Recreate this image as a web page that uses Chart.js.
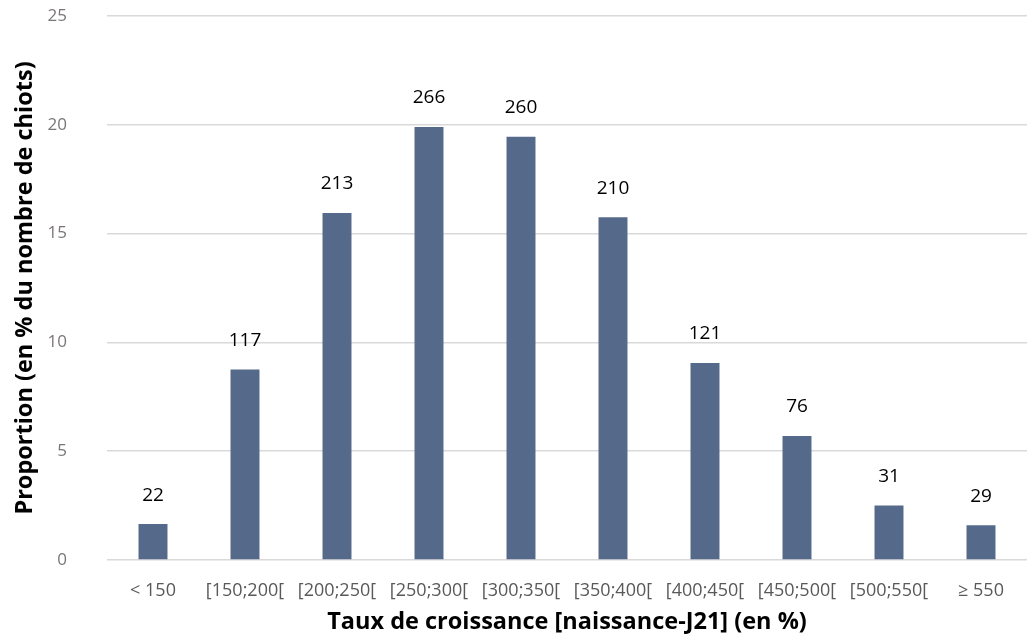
<!DOCTYPE html>
<html>
<head>
<meta charset="utf-8">
<script src="https://cdn.jsdelivr.net/npm/chart.js@4.4.1/dist/chart.umd.min.js"></script>
<style>
  html, body { margin: 0; padding: 0; background: #fff; }
  #wrap { width: 1027px; height: 639px; position: relative; }
</style>
</head>
<body>
<div id="wrap"><canvas id="chart"></canvas></div>
<script>
const categories = ["< 150", "[150;200[", "[200;250[", "[250;300[", "[300;350[", "[350;400[", "[400;450[", "[450;500[", "[500;550[", "≥ 550"];
// proportion (% du nombre de chiots)
const proportions = [1.65, 8.75, 15.95, 19.9, 19.45, 15.75, 9.05, 5.7, 2.5, 1.6];
// effectifs affichés au-dessus des barres
const counts = [22, 117, 213, 266, 260, 210, 121, 76, 31, 29];
const yTicks = [0, 5, 10, 15, 20, 25];

Chart.defaults.font.family = "'Open Sans', sans-serif";

// étiquettes de données (effectifs)
const countLabels = {
    id: "countLabels",
    afterDatasetsDraw(chart) {
        const { ctx } = chart;
        const meta = chart.getDatasetMeta(0);
        ctx.save();
        ctx.font = "19px 'Open Sans', sans-serif";
        ctx.fillStyle = "#000";
        ctx.textAlign = "center";
        ctx.textBaseline = "middle";
        meta.data.forEach((bar, i) => {
            ctx.fillText(String(counts[i]), bar.x, bar.y - 29);
        });
        ctx.restore();
    },
};

const ctx = document.getElementById("chart");

const chart = new Chart(ctx, {
    type: "bar",
    data: {
        labels: categories,
        datasets: [
            {
                data: proportions,
                backgroundColor: "#556a8b",
                categoryPercentage: 1,
                barPercentage: 0.315,
            },
        ],
    },
    options: {
        responsive: true,
        maintainAspectRatio: false,
        animation: false,
        layout: { padding: { top: 16, right: 0, left: 0, bottom: 0 } },
        plugins: {
            legend: { display: false },
            tooltip: { enabled: false },
        },
        scales: {
            x: {
                grid: { display: false, drawTicks: false },
                border: { display: false },
                ticks: {
                    color: "#595959",
                    font: { size: 18 },
                    padding: 20,
                    maxRotation: 0,
                    autoSkip: false,
                },
                title: {
                    display: true,
                    text: "Taux de croissance [naissance-J21] (en %)",
                    color: "#000",
                    font: { size: 23.5, weight: "bold" },
                    padding: { top: 0, bottom: 3 },
                },
                afterFit(scale) {
                    scale.height = 79;
                    scale.paddingLeft = 0;
                    scale.paddingRight = 0;
                },
            },
            y: {
                min: 0,
                max: 25,
                afterBuildTicks(scale) {
                    scale.ticks = yTicks.map((v) => ({ value: v }));
                },
                grid: { color: "#d9d9d9", lineWidth: 1.5, drawTicks: false },
                border: { display: false },
                ticks: {
                    color: "#7a7676",
                    font: { size: 17 },
                    padding: 40,
                },
                title: {
                    display: true,
                    text: "Proportion (en % du nombre de chiots)",
                    color: "#000",
                    font: { size: 23.5, weight: "bold" },
                    padding: { top: 11, bottom: 0 },
                },
                afterFit(scale) {
                    scale.width = 107;
                    scale.paddingTop = 0;
                    scale.paddingBottom = 0;
                },
            },
        },
    },
    plugins: [countLabels],
});
</script>
</body>
</html>
